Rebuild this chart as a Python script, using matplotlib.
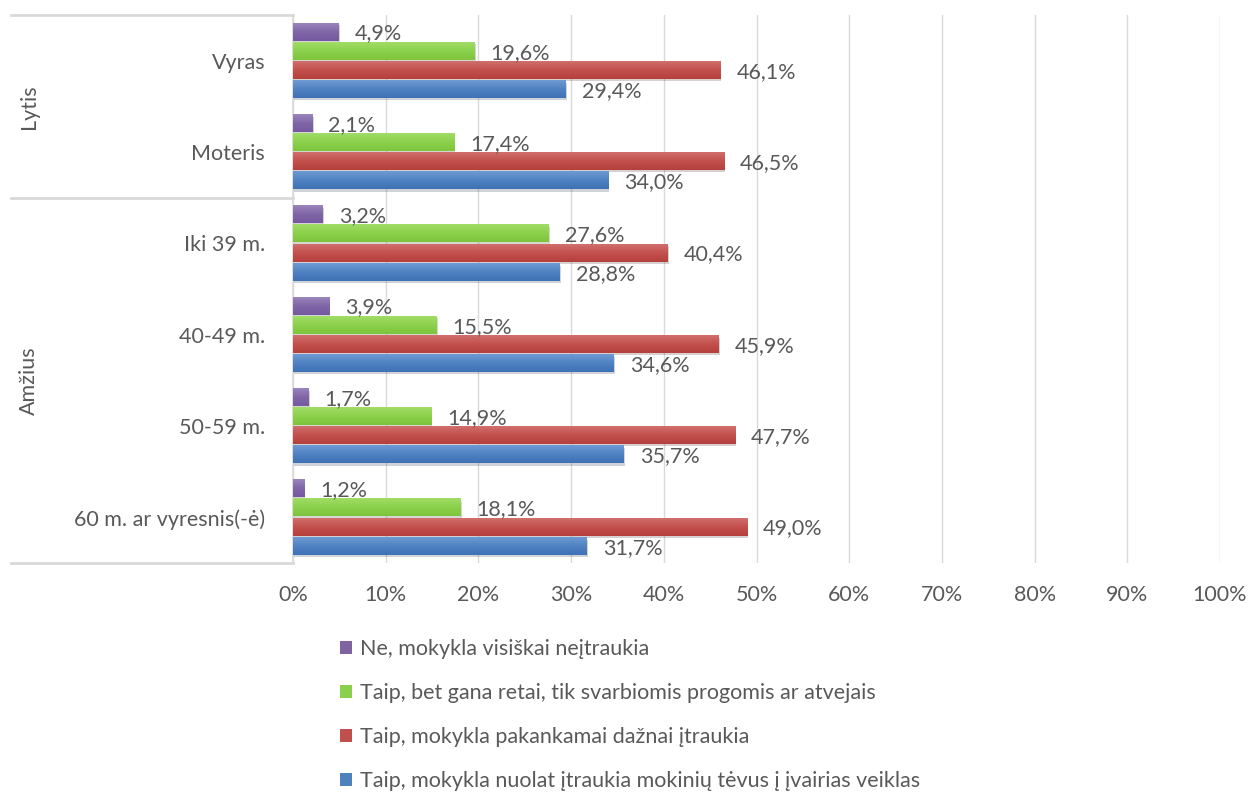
import matplotlib
matplotlib.use('Agg')
import matplotlib.pyplot as plt
import matplotlib.patheffects as pe
from matplotlib.lines import Line2D
from matplotlib.patches import Patch
from matplotlib.colors import LinearSegmentedColormap
import numpy as np

# categories, top to bottom
categories = ['Vyras', 'Moteris', 'Iki 39 m.', '40-49 m.', '50-59 m.',
              '60 m. ar vyresnis(-ė)']
groups = ['Lytis', 'Amžius']
group_sizes = [2, 4]

series_names = [
    'Ne, mokykla visiškai neįtraukia',
    'Taip, bet gana retai, tik svarbiomis progomis ar atvejais',
    'Taip, mokykla pakankamai dažnai įtraukia',
    'Taip, mokykla nuolat įtraukia mokinių tėvus į įvairias veiklas',
]
ne_visiskai = [4.9, 2.1, 3.2, 3.9, 1.7, 1.2]
gana_retai = [19.6, 17.4, 27.6, 15.5, 14.9, 18.1]
pakankamai = [46.1, 46.5, 40.4, 45.9, 47.7, 49.0]
nuolat = [29.4, 34.0, 28.8, 34.6, 35.7, 31.7]
series = [ne_visiskai, gana_retai, pakankamai, nuolat]
colors = ['#8064A2', '#8CCF4D', '#C0504D', '#4F81BD']
# light top -> base -> dark bottom (Excel style gradient fill)
gradients = [
    ['#9A84BC', '#8066A6', '#7559A0'],
    ['#A0DC66', '#8CD14B', '#7EC43C'],
    ['#D06E6B', '#C3504D', '#B5403D'],
    ['#6E9AD3', '#4F82C2', '#3F72B5'],
]

ticks = list(range(0, 101, 10))

plt.rcParams['font.family'] = ['Lato', 'DejaVu Sans']
fs = 15.5
plt.rcParams['font.size'] = fs
txt = '#595959'
line_c = '#D9D9D9'

fig = plt.figure(figsize=(12.49, 7.94), dpi=100)
W, H = 1249, 794
left, right, top, bottom = 293, 1220, 15, 563
ax = fig.add_axes([left / W, 1 - bottom / H, (right - left) / W, (bottom - top) / H])

y = np.arange(len(categories))
step = 0.21
bar_h = 0.19
grad = np.linspace(0, 1, 32).reshape(-1, 1)
shadow = [pe.SimplePatchShadow(offset=(0.8, -1.5), alpha=0.2), pe.Normal()]
for i, (vals, c, g) in enumerate(zip(series, colors, gradients)):
    cmap = LinearSegmentedColormap.from_list('s{}'.format(i), g)
    yy = y + (i - 1.5) * step
    bars = ax.barh(yy, vals, height=bar_h, color=c, zorder=3)
    for b in bars:
        b.set_path_effects(shadow)
    for v, yv in zip(vals, yy):
        ax.imshow(grad, cmap=cmap, aspect='auto', origin='upper',
                  extent=(0, v, yv + bar_h / 2, yv - bar_h / 2), zorder=4,
                  interpolation='bilinear')
        ax.annotate('{:.1f}%'.format(v).replace('.', ','), xy=(v, yv),
                    xytext=(11.5, -1.2), textcoords='offset points',
                    va='center', ha='left', color=txt, fontsize=fs, zorder=6)

ax.set_xlim(0, 100)
ax.set_ylim(len(categories) - 0.5, -0.5)
ax.set_aspect('auto')
ax.set_xticks(ticks)
ax.set_xticklabels(['{}%'.format(t) for t in ticks])
ax.set_yticks(y)
ax.set_yticklabels(categories)
ax.tick_params(axis='both', length=0, colors=txt, labelsize=fs)
ax.tick_params(axis='y', pad=20)
ax.tick_params(axis='x', pad=16)
ax.grid(axis='x', color=line_c, linewidth=1, zorder=0)
ax.set_axisbelow(True)
for s in ['top', 'right', 'bottom']:
    ax.spines[s].set_visible(False)
ax.spines['left'].set_color(line_c)
ax.spines['left'].set_linewidth(1.2)

# group separators and labels on the left
trans = ax.get_yaxis_transform()
x0 = (11 - left) / (right - left)
edge = -0.5
bounds = [edge]
for n in group_sizes:
    edge += n
    bounds.append(edge)
for b in bounds:
    ax.add_line(Line2D([x0, 0], [b, b], transform=trans, color=line_c,
                       linewidth=2, clip_on=False))
xg = (29 - left) / (right - left)
for g, b0, b1 in zip(groups, bounds[:-1], bounds[1:]):
    ax.text(xg, (b0 + b1) / 2, g, transform=trans, rotation=90,
            ha='center', va='center', color=txt, fontsize=fs)

handles = [Patch(facecolor=c) for c in colors]
fig.legend(handles, series_names, loc='upper left',
           bbox_to_anchor=(340 / W, 1 - 639 / H), frameon=False,
           borderaxespad=0, borderpad=0, labelspacing=1.12,
           handlelength=0.55, handleheight=0.55, handletextpad=0.4,
           labelcolor=txt, fontsize=fs)

plt.savefig('out.png', dpi=100)
